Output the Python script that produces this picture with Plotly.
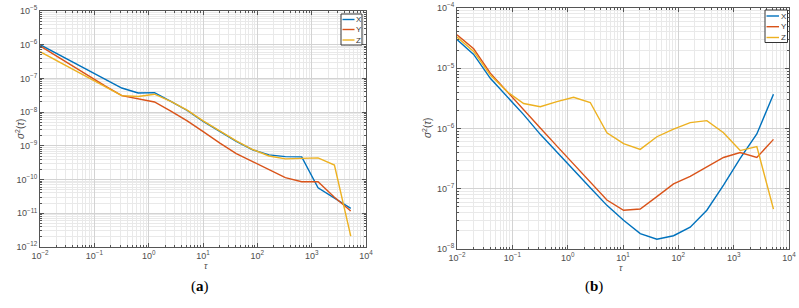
import plotly.graph_objects as go

# ---------------- data ----------------
tau = [0.01, 0.02, 0.04, 0.08, 0.16, 0.32, 0.64, 1.28, 2.56, 5.12, 10.24,
       20.48, 40.96, 81.92, 163.84, 327.68, 655.36, 1310.72, 2621.44, 5242.88]

# panel (a)
a_x = [1.0e-6, 5.5e-7, 3.0e-7, 1.65e-7, 9.0e-8, 5.2e-8, 3.7e-8, 3.8e-8, 2.1e-8, 1.12e-8,
       5.2e-9, 2.6e-9, 1.35e-9, 7.6e-10, 5.4e-10, 4.8e-10, 4.7e-10, 5.7e-11, 2.8e-11, 1.4e-11]
a_y = [9.2e-7, 4.6e-7, 2.3e-7, 1.17e-7, 5.9e-8, 3.1e-8, 2.5e-8, 2.0e-8, 1.07e-8, 5.5e-9,
       2.6e-9, 1.2e-9, 5.9e-10, 3.4e-10, 1.96e-10, 1.14e-10, 8.6e-11, 8.6e-11, 3.0e-11, 1.17e-11]
a_z = [6.2e-7, 3.4e-7, 1.8e-7, 1.0e-7, 5.5e-8, 3.1e-8, 2.9e-8, 3.4e-8, 2.1e-8, 1.15e-8,
       5.4e-9, 2.7e-9, 1.4e-9, 7.8e-10, 5.0e-10, 4.1e-10, 4.3e-10, 4.4e-10, 2.7e-10, 2.1e-12]

# panel (b)
b_x = [3.0e-5, 1.7e-5, 6.8e-6, 3.4e-6, 1.7e-6, 8.0e-7, 4.0e-7, 2.0e-7, 1.04e-7, 5.3e-8,
       3.0e-8, 1.8e-8, 1.45e-8, 1.66e-8, 2.3e-8, 4.4e-8, 1.15e-7, 3.2e-7, 8.1e-7, 3.7e-6]
b_y = [3.6e-5, 2.1e-5, 8.3e-6, 4.1e-6, 2.0e-6, 1.02e-6, 5.1e-7, 2.6e-7, 1.3e-7, 6.5e-8,
       4.4e-8, 4.6e-8, 7.4e-8, 1.2e-7, 1.6e-7, 2.3e-7, 3.3e-7, 4.0e-7, 3.3e-7, 6.6e-7]
b_z = [3.3e-5, 1.9e-5, 7.7e-6, 4.1e-6, 2.6e-6, 2.3e-6, 2.8e-6, 3.3e-6, 2.7e-6, 8.5e-7,
       5.6e-7, 4.5e-7, 7.3e-7, 9.8e-7, 1.25e-6, 1.35e-6, 8.5e-7, 4.3e-7, 5.0e-7, 4.6e-8]

series_names = ["X", "Y", "Z"]
colors = ["#0072BD", "#D95319", "#EDB120"]

x_tickvals = [1e-2, 1e-1, 1e0, 1e1, 1e2, 1e3, 1e4]
x_ticktext = ["10<sup>−2</sup>", "10<sup>−1</sup>", "10<sup>0</sup>", "10<sup>1</sup>",
              "10<sup>2</sup>", "10<sup>3</sup>", "10<sup>4</sup>"]
ya_tickvals = [1e-12, 1e-11, 1e-10, 1e-9, 1e-8, 1e-7, 1e-6, 1e-5]
ya_ticktext = ["10<sup>−12</sup>", "10<sup>−11</sup>", "10<sup>−10</sup>", "10<sup>−9</sup>",
               "10<sup>−8</sup>", "10<sup>−7</sup>", "10<sup>−6</sup>", "10<sup>−5</sup>"]
yb_tickvals = [1e-8, 1e-7, 1e-6, 1e-5, 1e-4]
yb_ticktext = ["10<sup>−8</sup>", "10<sup>−7</sup>", "10<sup>−6</sup>", "10<sup>−5</sup>",
               "10<sup>−4</sup>"]

# ---------------- figure ----------------
W, H = 799, 308
fig = go.Figure()

for name, col, ys in zip(series_names, colors, [a_x, a_y, a_z]):
    fig.add_trace(go.Scatter(x=tau, y=ys, mode="lines", name=name,
                             line=dict(color=col, width=1.4),
                             xaxis="x", yaxis="y", showlegend=False))
for name, col, ys in zip(series_names, colors, [b_x, b_y, b_z]):
    fig.add_trace(go.Scatter(x=tau, y=ys, mode="lines", name=name,
                             line=dict(color=col, width=1.4),
                             xaxis="x2", yaxis="y2", showlegend=False))

tick_font = dict(family="Liberation Sans, Arial, sans-serif", size=9, color="#4d4d4d")
axcol = "#555555"


def axis_common(tv, tt, rng, domain, anchor):
    return dict(type="log", range=rng, domain=domain, anchor=anchor,
                tickmode="array", tickvals=tv, ticktext=tt,
                showline=True, linecolor=axcol, linewidth=1, mirror="ticks",
                ticks="inside", ticklen=4, tickcolor=axcol, tickwidth=0.8,
                showgrid=True, gridcolor="#d3d3d3", gridwidth=0.8,
                minor=dict(dtick="D1", showgrid=True, gridcolor="#e9e9e9", gridwidth=0.6,
                           ticks="inside", ticklen=2, tickcolor=axcol, tickwidth=0.6),
                tickfont=tick_font, zeroline=False, fixedrange=True, automargin=False)


def px_x(p):
    return p / W


def px_y(p):
    return 1 - p / H


fig.update_layout(
    width=W, height=H,
    margin=dict(l=0, r=0, t=0, b=0, pad=0),
    paper_bgcolor="white", plot_bgcolor="white",
    xaxis=axis_common(x_tickvals, x_ticktext, [-2, 4], [px_x(40), px_x(366)], "y"),
    yaxis=axis_common(ya_tickvals, ya_ticktext, [-12, -5], [px_y(247), px_y(11)], "x"),
    xaxis2=axis_common(x_tickvals, x_ticktext, [-2, 4], [px_x(457), px_x(789)], "y2"),
    yaxis2=axis_common(yb_tickvals, yb_ticktext, [-8, -4], [px_y(249), px_y(8)], "x2"),
)

annotations = []
shapes = []
lab_font = dict(family="Liberation Sans, Arial, sans-serif", size=10, color="#4d4d4d")

# axis titles
for xc, yc in [(12, 129), (427, 128)]:
    annotations.append(dict(x=px_x(xc), y=px_y(yc), xref="paper", yref="paper",
                            text="<i>σ</i><sup>2</sup>(<i>τ</i>)", textangle=-90,
                            showarrow=False, font=lab_font))
for xc, yc in [(203, 272), (624, 274)]:
    annotations.append(dict(x=px_x(xc), y=px_y(yc), xref="paper", yref="paper",
                            text="<i>τ</i>", showarrow=False, borderpad=0,
                            font=dict(family="Liberation Sans, Arial, sans-serif",
                                      size=9, color="#4d4d4d")))
# panel labels
for xc, txt in [(189, "(<b>a</b>)"), (605, "(<b>b</b>)")]:
    annotations.append(dict(x=px_x(xc), y=px_y(297), xref="paper", yref="paper",
                            text=txt, showarrow=False,
                            font=dict(family="Liberation Serif, Times New Roman, serif",
                                      size=15, color="black")))

# legends (drawn as decorations)
legends = [
    dict(box=(341, 14, 362, 45), rows=[19.5, 29.5, 40], lx=(342.5, 354.5), tx=355),
    dict(box=(765, 10, 787.5, 42.5), rows=[16, 26.7, 37.5], lx=(766.5, 779), tx=779.5),
]
for lg in legends:
    x0, y0, x1, y1 = lg["box"]
    shapes.append(dict(type="rect", xref="paper", yref="paper",
                       x0=px_x(x0), x1=px_x(x1), y0=px_y(y1), y1=px_y(y0),
                       line=dict(color="#333333", width=1), fillcolor="white", layer="above"))
    for ry, col, name in zip(lg["rows"], colors, series_names):
        shapes.append(dict(type="line", xref="paper", yref="paper",
                           x0=px_x(lg["lx"][0]), x1=px_x(lg["lx"][1]),
                           y0=px_y(ry), y1=px_y(ry),
                           line=dict(color=col, width=1.4), layer="above"))
        annotations.append(dict(x=px_x(lg["tx"]), y=px_y(ry), xref="paper", yref="paper",
                                text=name, showarrow=False, xanchor="left", yanchor="middle",
                                borderpad=0,
                                font=dict(family="Liberation Sans, Arial, sans-serif",
                                          size=8, color="#333333")))

fig.update_layout(annotations=annotations, shapes=shapes)
fig.write_html("out.html", config={"displayModeBar": False},
               post_script="document.body.style.margin='0';")
